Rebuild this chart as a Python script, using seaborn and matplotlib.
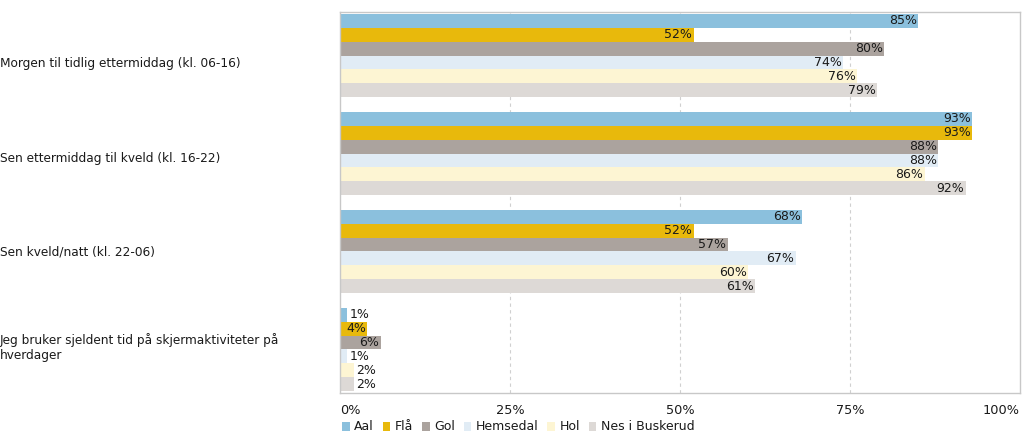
"""Skjermtid på hverdager - horisontalt søylediagram per kommune"""
# Imports
import pandas as pd
import matplotlib.pyplot as plt
import matplotlib.transforms as mtransforms
import seaborn as sns
from matplotlib.patches import Patch

# Data
categories = ['Morgen til tidlig ettermiddag (kl. 06-16)',
              'Sen ettermiddag til kveld (kl. 16-22)',
              'Sen kveld/natt (kl. 22-06)',
              'Jeg bruker sjeldent tid på skjermaktiviteter på\nhverdager']
kommuner = ['Aal', 'Flå', 'Gol', 'Hemsedal', 'Hol', 'Nes i Buskerud']
aal = [85, 93, 68, 1]
fla = [52, 93, 52, 4]
gol = [80, 88, 57, 6]
hemsedal = [74, 88, 67, 1]
hol = [76, 86, 60, 2]
nes = [79, 92, 61, 2]
colors = ['#8bc0dd', '#e8b90c', '#aba39e', '#e1ecf5', '#fdf5d3', '#ddd9d6']
x_ticks = [0, 25, 50, 75, 100]
TEXT = '#1a1a1a'

# Build long table
series = [aal, fla, gol, hemsedal, hol, nes]
rows = []
for name, values in zip(kommuner, series):
    for cat, v in zip(categories, values):
        rows.append({'kategori': cat, 'kommune': name, 'prosent': v})
df = pd.DataFrame(rows)

sns.set_style('white')
plt.rcParams['font.family'] = ['DejaVu Sans']
fig = plt.figure(figsize=(10.23, 4.38), dpi=100)
ax = fig.add_axes([340 / 1023, 1 - 393 / 438, 680 / 1023, 381 / 438])

sns.barplot(data=df, y='kategori', x='prosent', hue='kommune', order=categories,
            hue_order=kommuner, palette=colors, orient='h', width=0.85, gap=0,
            legend=False, ax=ax, saturation=1, linewidth=0, edgecolor='none')

# Value labels
for container in ax.containers:
    for bar in container:
        w = bar.get_width()
        y = bar.get_y() + bar.get_height() / 2
        label = f'{w:.0f}%'
        if w < 3.5:
            ax.text(w + 0.4, y, label, va='center', ha='left', fontsize=9, color=TEXT)
        else:
            ax.text(w - 0.2, y, label, va='center', ha='right', fontsize=9, color=TEXT)

ax.set_xlim(0, 100)
ax.set_ylim(3.445, -0.445)
ax.set_xticks(x_ticks)
ax.set_xticklabels([f'{t}%' for t in x_ticks], fontsize=9.3, color=TEXT)
labels = ax.get_xticklabels()
labels[0].set_ha('left')
labels[-1].set_ha('right')
ax.tick_params(axis='x', length=0, pad=8)
ax.tick_params(axis='y', length=0, pad=340 * 0.72)
# category labels sit a little tighter together than the bar groups
shifts = [-6.4, -3.4, 0.6, 4.6]
for lab, dy in zip(ax.get_yticklabels(), shifts):
    lab.set_ha('left')
    lab.set_fontsize(8.7)
    lab.set_color(TEXT)
    lab.set_transform(lab.get_transform() + mtransforms.ScaledTranslation(0, dy / 100, fig.dpi_scale_trans))
ax.set_xlabel('')
ax.set_ylabel('')
for x in x_ticks[1:-1]:
    ax.axvline(x, color='#d0d0d0', linestyle=(0, (3, 3)), linewidth=0.8, zorder=0)
for spine in ax.spines.values():
    spine.set_color('#c8c8c8')
    spine.set_linewidth(1)

# Legend
handles = [Patch(facecolor=c, edgecolor='none') for c in colors]
fig.legend(handles, kommuner, loc='center left', bbox_to_anchor=(337 / 1023, 1 - 427 / 438),
           ncol=6, frameon=False, fontsize=9.0, handlelength=0.62, handleheight=0.75,
           handletextpad=0.35, columnspacing=0.7, labelcolor=TEXT, borderaxespad=0)

plt.savefig('out.png', dpi=100)
